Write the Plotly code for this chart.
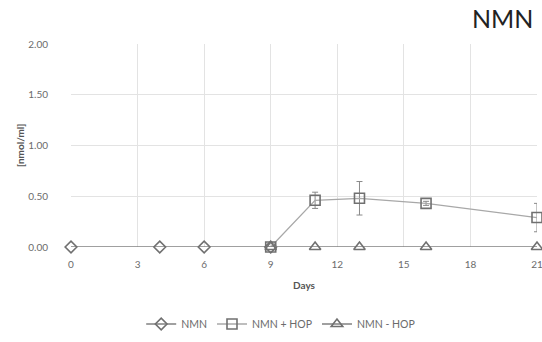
import plotly.graph_objects as go

nmn_days = [0, 4, 6, 9]
nmn_vals = [0, 0, 0, 0]

hop_days = [9, 11, 13, 16, 21]
hop_vals = [0.0, 0.46, 0.48, 0.43, 0.29]
hop_err = [0.0, 0.08, 0.165, 0.02, 0.14]

minus_days = [9, 11, 13, 16, 21]
minus_vals = [0, 0, 0, 0, 0]

x_ticks = [0, 3, 6, 9, 12, 15, 18, 21]
y_ticks = [0, 0.5, 1.0, 1.5, 2.0]

FONT = "Lato"
fig = go.Figure()
fig.add_trace(go.Scatter(
    x=nmn_days, y=nmn_vals, name="NMN", mode="lines+markers", cliponaxis=False,
    line=dict(color="#808080", width=1.3),
    marker=dict(symbol="diamond-open", size=9, color="#707070", line=dict(width=1.6)),
))
fig.add_trace(go.Scatter(
    x=hop_days, y=hop_vals, name="NMN + HOP", mode="lines+markers", cliponaxis=False,
    line=dict(color="#a8a8a8", width=1.3),
    marker=dict(symbol="square-open", size=10, color="#707070", line=dict(width=1.6)),
    error_y=dict(type="data", array=hop_err, color="#8a8a8a", thickness=1, width=3),
))
fig.add_trace(go.Scatter(
    x=minus_days, y=minus_vals, name="NMN - HOP", mode="lines+markers", cliponaxis=False,
    line=dict(color="#808080", width=1.3),
    marker=dict(symbol="triangle-up-open", size=10, color="#707070", line=dict(width=1.6)),
))

plot_w = 542 - 71 - 5
plot_h = 342 - 44 - 95
fig.update_layout(
    width=542, height=342,
    margin=dict(l=71, r=5, t=44, b=95, autoexpand=False),
    paper_bgcolor="white", plot_bgcolor="white",
    font=dict(family=FONT, color="#6b6b6b", size=10),
    showlegend=True,
    legend=dict(orientation="h", x=0.45, xanchor="center", y=-77 / plot_h, yanchor="middle",
                font=dict(size=10.5, color="#6b6b6b"), itemwidth=30),
    annotations=[
        dict(text="NMN", x=(535 - 71) / plot_w, xref="paper", xanchor="right",
             y=1.0 + (44 - 18) / plot_h, yref="paper", yanchor="middle", showarrow=False,
             font=dict(size=25, color="#222222", family=FONT)),
        dict(text="<b>[nmol/ml]</b>", x=(20 - 71) / plot_w, xref="paper", xanchor="center",
             y=(247 - 145) / plot_h, yref="paper", yanchor="middle", textangle=-90,
             showarrow=False, font=dict(size=10, color="#555555", family=FONT)),
    ],
)
fig.update_xaxes(
    range=[0, 21], tickvals=x_ticks, showgrid=True, gridcolor="#e3e3e3",
    zeroline=False, showline=False, ticks="", automargin=False,
    ticklabelstandoff=10, ticklabeloverflow="allow",
    title=dict(text="<b>Days</b>", font=dict(size=10, color="#555555"), standoff=12),
    tickfont=dict(size=10, color="#6b6b6b"),
)
fig.update_yaxes(
    range=[0, 2], tickvals=y_ticks, tickformat=".2f", showgrid=True, gridcolor="#e3e3e3",
    zeroline=False, showline=False, ticks="", automargin=False,
    ticklabelstandoff=22,
    tickfont=dict(size=10, color="#6b6b6b"),
)
fig.write_html("out.html")
